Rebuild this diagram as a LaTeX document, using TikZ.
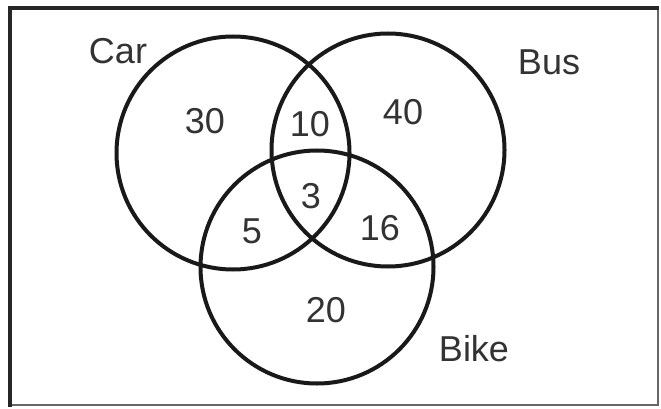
\documentclass[tikz,border=0pt]{standalone}
\usepackage{fontspec}
\setmainfont{Liberation Sans}
\begin{document}
\begin{tikzpicture}[x=1pt,y=-1pt,
  ring/.style={draw=black!90,line width=4pt,circle,minimum size=233pt,inner sep=0pt},
  lbl/.style={font=\fontsize{36}{38}\selectfont,text=black!80,inner sep=0pt}]
\useasboundingbox (0,0) rectangle (661,409);
\fill[white] (0,0) rectangle (661,409);
% frame
\draw[black!60,line width=1.5pt] (658,8) -- (658,405) -- (10,405);
\draw[black!85,line width=4pt] (10,407) -- (10,8) -- (659,8);
% circles
\node[ring] (car) at (233,153) {};
\node[ring] (bus) at (388,150) {};
\node[ring] (bike) at (317,267) {};
% labels
\node[lbl] (lcar) at (118,51) {Car};
\node[lbl] (lbus) at (549,62) {Bus};
\node[lbl] (lbike) at (474,349) {Bike};
\node[lbl] (n30) at (205,121) {30};
\node[lbl] (n10) at (310,124) {10};
\node[lbl] (n40) at (403,112) {40};
\node[lbl] (n3) at (311,196) {3};
\node[lbl] (n5) at (252,231) {5};
\node[lbl] (n16) at (380,228) {16};
\node[lbl] (n20) at (326,310) {20};
\end{tikzpicture}
\end{document}
